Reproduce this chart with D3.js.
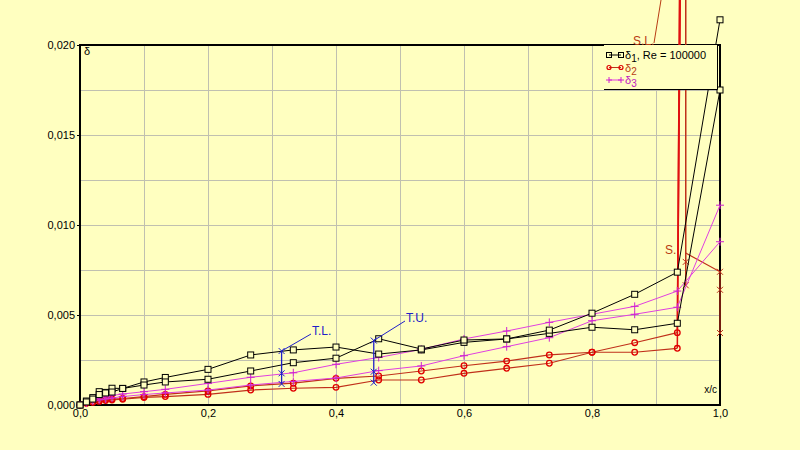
<!DOCTYPE html>
<html><head><meta charset="utf-8">
<script src="https://cdn.jsdelivr.net/npm/d3@7"></script>
<style>
html,body{margin:0;padding:0;background:#ffffc0;}
svg{display:block;font-family:"Liberation Sans",Arial,sans-serif;}
</style></head>
<body><svg id="c" width="800" height="450"></svg>
<script>
// ---------- data ----------
const xs = [0, 0.01, 0.02, 0.03, 0.04, 0.05, 0.0667, 0.1, 0.1333, 0.2, 0.2667, 0.3333, 0.4, 0.4667, 0.5333, 0.6, 0.6667, 0.7333, 0.8, 0.8667, 0.9333, 1.0];
const d1Lower = [0, 0.00022, 0.00041, 0.00074, 0.0007, 0.00093, 0.00092, 0.00128, 0.00153, 0.00198, 0.00278, 0.00306, 0.00322, 0.00283, 0.00306, 0.00348, 0.00367, 0.00398, 0.00432, 0.00418, 0.00454, 0.0175];
const d1Upper = [0, 0.00017, 0.00033, 0.00058, 0.00067, 0.00072, 0.00092, 0.00111, 0.00128, 0.00143, 0.00189, 0.00235, 0.0026, 0.00368, 0.00311, 0.00361, 0.00367, 0.00416, 0.0051, 0.00615, 0.00738, 0.0214];
const d3Lower = [0, 0.00017, 0.00028, 0.00039, 0.00044, 0.00053, 0.00061, 0.00074, 0.00087, 0.0012, 0.00154, 0.00179, 0.00226, 0.00264, 0.00309, 0.00367, 0.00411, 0.00459, 0.00504, 0.00548, 0.00633, 0.00907];
const d3Upper = [0, 0.00011, 0.00022, 0.00028, 0.00033, 0.00039, 0.00047, 0.00058, 0.00067, 0.00083, 0.00111, 0.00131, 0.0015, 0.00191, 0.00217, 0.00274, 0.00324, 0.00374, 0.00468, 0.00504, 0.00543, 0.0111];
const xsRed = [0, 0.01, 0.02, 0.03, 0.04, 0.05, 0.0667, 0.1, 0.1333, 0.2, 0.2667, 0.3333, 0.4, 0.4667, 0.5333, 0.6, 0.6667, 0.7333, 0.8, 0.8667, 0.9333];
const d2Lower = [0, 0.00011, 0.00017, 0.00025, 0.00031, 0.00033, 0.00036, 0.00046, 0.00059, 0.00078, 0.00106, 0.00121, 0.00148, 0.00161, 0.00189, 0.00218, 0.00244, 0.00278, 0.00293, 0.00346, 0.00402];
const d2Upper = [0, 0.0001, 0.00015, 0.0002, 0.00025, 0.00028, 0.00032, 0.00042, 0.00047, 0.00059, 0.00083, 0.00093, 0.00098, 0.00139, 0.00139, 0.00176, 0.00204, 0.00232, 0.00293, 0.00293, 0.00315];
// separated part of delta2 (x, value); the spikes run off the top of the chart
const spikeX = [0.9333, 0.9375, 0.9385, 0.9333];
const spikeLowerV = [0.00402, 0.0260, 0.0260, 0.00402];
const spikeUpperV = [0.00315, 0.0260, 0.0260, 0.00315];
const sepDownX = [0.9465, 0.9465];
const sepDownV = [0.0260, 0.00665];
const sepTailX = [0.9465, 1.0, 1.0];
const sepTailV = [0.00844, 0.0074, 0.0040];
const sepMarkX = [0.9465, 0.9465, 1.0, 1.0, 1.0];
const sepMarkV = [0.00795, 0.00665, 0.0074, 0.0064, 0.0040];
// transition markers
const tlX = 0.315, tlV = [0.0030, 0.00176, 0.00117];
const tuX = 0.459, tuV = [0.00358, 0.00185, 0.00124];
const yTicks = [0, 0.005, 0.010, 0.015, 0.020];
const yTickLabels = ["0,000", "0,005", "0,010", "0,015", "0,020"];
const xTicks = [0, 0.2, 0.4, 0.6, 0.8, 1.0];
const xTickLabels = ["0,0", "0,2", "0,4", "0,6", "0,8", "1,0"];

// ---------- chart ----------
const svg = d3.select("#c");
const x = d3.scaleLinear().domain([0, 1]).range([80, 720]);
const y = d3.scaleLinear().domain([0, 0.02]).range([405, 45]);
const BLACK = "#000000", RED_L = "#c0301a", RED_S = "#e01010", RED_M = "#e00000", MAG = "#e040e0", MAG_M = "#d020d0", BLUE = "#2020c8", BROWN = "#b83c14";

svg.append("rect").attr("width", 800).attr("height", 450).attr("fill", "#ffffc0");

// grid
const gx = d3.range(1, 10).map(i => i / 10);
const gy = d3.range(1, 8).map(i => i * 0.0025);
svg.append("g").selectAll("line").data(gx).join("line")
  .attr("x1", d => x(d)).attr("x2", d => x(d)).attr("y1", y(0)).attr("y2", y(0.02))
  .attr("stroke", "#c0c0b0").attr("stroke-width", 1).attr("shape-rendering", "crispEdges");
svg.append("g").selectAll("line").data(gy).join("line")
  .attr("y1", d => y(d)).attr("y2", d => y(d)).attr("x1", x(0)).attr("x2", x(1))
  .attr("stroke", "#c0c0b0").attr("stroke-width", 1).attr("shape-rendering", "crispEdges");

// frame
svg.append("rect").attr("x", x(0)).attr("y", y(0.02)).attr("width", x(1) - x(0)).attr("height", y(0) - y(0.02))
  .attr("fill", "none").attr("stroke", "#000").attr("stroke-width", 1.2).attr("shape-rendering", "crispEdges");

// axes
const yAxis = d3.axisLeft(y).tickValues(yTicks).tickFormat((d, i) => yTickLabels[i]).tickSize(3).tickPadding(2);
const ya = svg.append("g").attr("transform", `translate(${x(0)},0)`).call(yAxis);
ya.select(".domain").remove();
ya.selectAll("text").attr("font-size", 11).attr("fill", "#000").attr("font-family", "Liberation Sans, Arial, sans-serif");
const xAxis = d3.axisBottom(x).tickValues(xTicks).tickFormat((d, i) => xTickLabels[i]).tickSize(0).tickPadding(4);
const xa = svg.append("g").attr("transform", `translate(0,${y(0)})`).call(xAxis);
xa.select(".domain").remove();
xa.selectAll("text").attr("font-size", 11).attr("fill", "#000").attr("font-family", "Liberation Sans, Arial, sans-serif");

svg.append("text").attr("x", x(0) + 4).attr("y", y(0.02) + 10).attr("font-size", 11).text("δ");
svg.append("text").attr("x", x(1) - 3).attr("y", y(0) - 12).attr("text-anchor", "end").attr("font-size", 10).text("x/c");

const line = d3.line();
function drawSeries(xv, yv, color, width) {
  svg.append("path").datum(xv.map((d, i) => [x(d), y(yv[i])]))
    .attr("d", line).attr("fill", "none").attr("stroke", color).attr("stroke-width", width);
}
function squares(xv, yv) {
  svg.append("g").selectAll("rect").data(xv.map((d, i) => [x(d), y(yv[i])])).join("rect")
    .attr("x", d => d[0] - 3).attr("y", d => d[1] - 3).attr("width", 6).attr("height", 6)
    .attr("fill", "#ffffc0").attr("stroke", BLACK).attr("stroke-width", 1);
}
function circles(xv, yv) {
  svg.append("g").selectAll("circle").data(xv.map((d, i) => [x(d), y(yv[i])])).join("circle")
    .attr("cx", d => d[0]).attr("cy", d => d[1]).attr("r", 2.8)
    .attr("fill", "none").attr("stroke", RED_M).attr("stroke-width", 1.3);
}
function pluses(xv, yv, color) {
  const g = svg.append("g");
  xv.forEach((d, i) => {
    const px = x(d), py = y(yv[i]);
    g.append("path").attr("d", `M${px - 4},${py}H${px + 4}M${px},${py - 4}V${py + 4}`).attr("stroke", color).attr("stroke-width", 1);
  });
}
function crosses(xv, yv, color) {
  const g = svg.append("g");
  xv.forEach((d, i) => {
    const px = x(d), py = y(yv[i]);
    g.append("path").attr("d", `M${px - 3},${py - 3}L${px + 3},${py + 3}M${px - 3},${py + 3}L${px + 3},${py - 3}`).attr("stroke", color).attr("stroke-width", 1);
  });
}

// delta2 separated parts (spikes off-chart)
drawSeries(spikeX, spikeLowerV, RED_S, 1.5);
drawSeries(spikeX, spikeUpperV, RED_S, 1.5);
drawSeries(sepDownX, sepDownV, RED_L, 1.5);
drawSeries(sepTailX, sepTailV, RED_L, 1.2);
crosses(sepMarkX, sepMarkV, RED_L);

// delta2
drawSeries(xsRed, d2Lower, RED_L, 1.2);
drawSeries(xsRed, d2Upper, RED_L, 1.2);
circles(xsRed, d2Lower);
circles(xsRed, d2Upper);

// delta3
drawSeries(xs, d3Lower, MAG, 1);
drawSeries(xs, d3Upper, MAG, 1);
pluses(xs, d3Lower, MAG_M);
pluses(xs, d3Upper, MAG_M);

// delta1
drawSeries(xs, d1Lower, BLACK, 1);
drawSeries(xs, d1Upper, BLACK, 1);
squares(xs, d1Lower);
squares(xs, d1Upper);

// transitions
function transition(tx, tv, label, lx, ly) {
  svg.append("line").attr("x1", x(tx)).attr("x2", x(tx)).attr("y1", y(d3.max(tv))).attr("y2", y(d3.min(tv)))
    .attr("stroke", BLUE).attr("stroke-width", 1.3);
  crosses(tv.map(() => tx), tv, BLUE);
  svg.append("line").attr("x1", x(tx)).attr("y1", y(tv[0])).attr("x2", lx).attr("y2", ly)
    .attr("stroke", BLUE).attr("stroke-width", 1);
  svg.append("text").attr("x", lx + 1).attr("y", ly + 1).attr("font-size", 12).attr("fill", BLUE).text(label);
}
transition(tlX, tlV, "T.L.", 311, 334);
transition(tuX, tuV, "T.U.", 405, 321);

// separation labels
svg.append("line").attr("x1", 654).attr("y1", 43).attr("x2", 661).attr("y2", 0).attr("stroke", BROWN).attr("stroke-width", 1);
svg.append("text").attr("x", 633).attr("y", 45).attr("font-size", 12).attr("fill", BROWN).text("S.L.");
svg.append("text").attr("x", 665).attr("y", 254).attr("font-size", 12).attr("fill", BROWN).text("S.");

// legend
const lg = svg.append("g");
lg.append("rect").attr("x", 604).attr("y", 45).attr("width", 113).attr("height", 44).attr("fill", "#ffffc0");
lg.append("path").attr("d", "M604,89.5H717.5V46").attr("fill", "none").attr("stroke", "#000").attr("stroke-width", 1);
const legRows = [
  {c: BLACK, t: "1", extra: ", Re = 100000", m: "sq", tc: "#000"},
  {c: RED_L, t: "2", extra: "", m: "ci", tc: BROWN},
  {c: MAG, t: "3", extra: "", m: "pl", tc: "#c020c0"}
];
legRows.forEach((r, i) => {
  const yy = 55 + i * 12.5;
  lg.append("line").attr("x1", 609).attr("x2", 621).attr("y1", yy).attr("y2", yy).attr("stroke", r.c).attr("stroke-width", 1);
  [609, 621].forEach(px => {
    if (r.m === "sq") lg.append("rect").attr("x", px - 2.5).attr("y", yy - 2.5).attr("width", 5).attr("height", 5).attr("fill", "none").attr("stroke", "#000");
    else if (r.m === "ci") lg.append("circle").attr("cx", px).attr("cy", yy).attr("r", 2).attr("fill", "none").attr("stroke", RED_M).attr("stroke-width", 1.2);
    else lg.append("path").attr("d", `M${px - 3},${yy}H${px + 3}M${px},${yy - 3}V${yy + 3}`).attr("stroke", MAG_M);
  });
  const t = lg.append("text").attr("x", 625).attr("y", yy + 4).attr("font-size", 11).attr("fill", r.tc);
  t.append("tspan").text("δ");
  t.append("tspan").attr("dy", 3).attr("font-size", 10).text(r.t);
  if (r.extra) t.append("tspan").attr("dy", -3).text(r.extra);
});
</script></body></html>
